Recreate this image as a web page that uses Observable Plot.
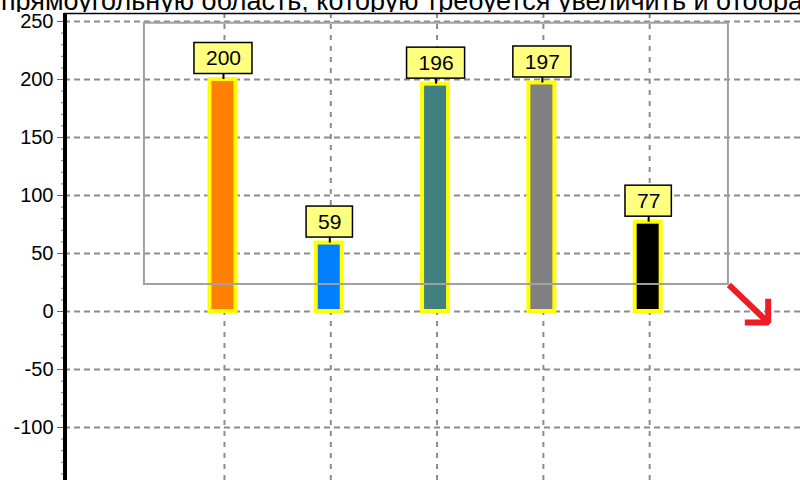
<!DOCTYPE html>
<html><head><meta charset="utf-8">
<script src="https://cdn.jsdelivr.net/npm/d3@7"></script>
<script src="https://cdn.jsdelivr.net/npm/@observablehq/plot@0.6"></script>
<style>
html,body{margin:0;padding:0;background:#fff;overflow:hidden;width:800px;height:480px;}
#title{height:12px;overflow:hidden;width:800px;}
#title div{margin-top:-12px;font:27px/27px "Liberation Sans",Arial,sans-serif;white-space:nowrap;color:#000;margin-left:1px;}
#chart svg{display:block;overflow:visible;}
</style></head><body>
<div id="title"><div>прямоугольную область, которую требуется увеличить и отобразить</div></div>
<div id="chart"></div>
<script>
// ---- data ----
const categories = [1, 2, 3, 4, 5];
const values = [200, 59, 196, 197, 77];
const barColors = ["#ff8000", "#0080ff", "#408080", "#808080", "#000000"];
const yTicks = [-100, -50, 0, 50, 100, 150, 200, 250];
const yMinorTicks = [-140,-130,-120,-110,-90,-80,-70,-60,-40,-30,-20,-10,10,20,30,40,60,70,80,90,110,120,130,140,160,170,180,190,210,220,230,240];
const xDomain = [-0.505, 6.419];
const yDomain = [-145.7, 256.9];
// selection rectangle (zoom region) and red arrow, in data units
const selectionBox = [{x1: 0.247, x2: 5.741, y1: 23.3, y2: 248.5}];
const arrowShaft = [{x: 5.745, y: 23.0}, {x: 6.115, y: -9.5}];
const arrowHead = [{x: 5.895, y: -9.5}, {x: 6.115, y: -9.5}, {x: 6.115, y: 11}];

// ---- layout ----
const W = 800, H = 468, mL = 64, mR = 0, mT = 1, mB = 0;
const pxPerX = (W - mL - mR) / (xDomain[1] - xDomain[0]);
const pxPerY = (H - mT - mB) / (yDomain[1] - yDomain[0]);
const barW = 26 / pxPerX;
const gapU = 5.5 / pxPerY;
const boxHU = 31 / pxPerY;
const labelFont = 21;
const ctx = document.createElement("canvas").getContext("2d");
ctx.font = labelFont + "px 'Liberation Sans', Arial, sans-serif";

const data = categories.map((c, i) => {
  const t = String(values[i]);
  const w = ctx.measureText(t).width + 23;
  return {x: c, value: values[i], color: barColors[i], text: t, hw: (w / 2) / pxPerX};
});

const grid = "#8c8c8c";
const plot = Plot.plot({
  width: W, height: H,
  marginLeft: mL, marginRight: mR, marginTop: mT, marginBottom: mB,
  style: {fontFamily: "'Liberation Sans', Arial, sans-serif", fontSize: "20px", background: "#fff", color: "#000", overflow: "visible"},
  x: {type: "linear", domain: xDomain, axis: null},
  y: {type: "linear", domain: yDomain},
  color: {type: "identity"},
  marks: [
    Plot.ruleY(yTicks, {stroke: grid, strokeWidth: 2, strokeDasharray: "6,4"}),
    Plot.ruleX(categories, {stroke: grid, strokeWidth: 2, strokeDasharray: "5,6"}),
    Plot.rectY(data, {x1: d => d.x - barW / 2, x2: d => d.x + barW / 2, y1: 0, y2: "value", fill: "color", stroke: "#ffff00", strokeWidth: 4, dx: -1.5}),
    Plot.rect(selectionBox, {x1: "x1", x2: "x2", y1: "y1", y2: "y2", fill: "none", stroke: "#a0a0a0", strokeWidth: 2}),
    Plot.ruleX(data, {x: "x", y1: "value", y2: d => d.value + gapU, stroke: "#000", strokeWidth: 2, dx: -1}),
    Plot.rect(data, {x1: d => d.x - d.hw, x2: d => d.x + d.hw, y1: d => d.value + gapU, y2: d => d.value + gapU + boxHU, fill: "#ffff80", stroke: "#000", strokeWidth: 1.5, dx: -1}),
    Plot.text(data, {x: "x", y: d => d.value + gapU + boxHU / 2, text: "text", fontSize: labelFont, fill: "#000", lineAnchor: "middle", dx: -1}),
    Plot.axisY({ticks: yMinorTicks, tickSize: 3, stroke: "#777", tickFormat: () => "", label: null}),
    Plot.axisY({ticks: yTicks, tickSize: 7, tickPadding: 4, stroke: "#666", tickFormat: d => String(d), fontSize: 20, fill: "#000", label: null}),
    Plot.ruleX([xDomain[0]], {stroke: "#000", strokeWidth: 4, dx: 0.5}),
    Plot.ruleY([yDomain[1]], {stroke: "#000", strokeWidth: 1.5}),
    Plot.line(arrowShaft, {x: "x", y: "y", stroke: "#ee1c24", strokeWidth: 6, strokeLinecap: "butt"}),
    Plot.line(arrowHead, {x: "x", y: "y", stroke: "#ee1c24", strokeWidth: 6, strokeLinecap: "butt", strokeLinejoin: "miter"})
  ]
});
document.getElementById("chart").appendChild(plot);
</script>
</body></html>
